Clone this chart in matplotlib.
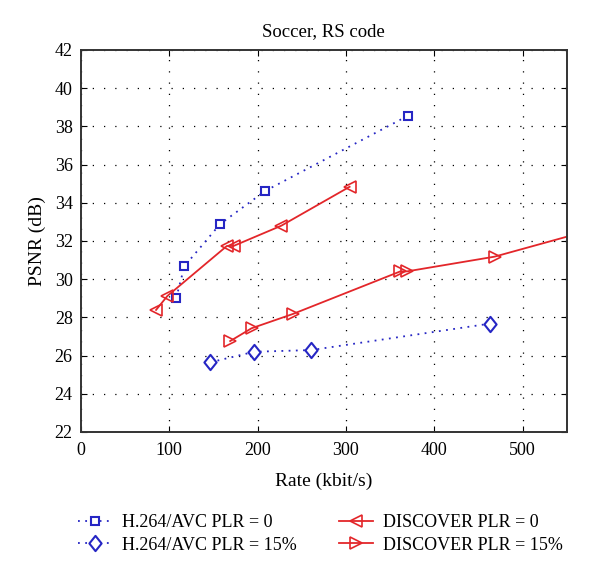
import matplotlib
matplotlib.use("Agg")
import matplotlib.pyplot as plt
from matplotlib.path import Path

# H.264/AVC, PLR = 0
avc0_rate = [107.7, 117.1, 157.6, 208.6, 370.4]
avc0_psnr = [29.0, 30.68, 32.89, 34.62, 38.56]

# H.264/AVC, PLR = 15%
avc15_rate = [146.6, 196.1, 260.8, 462.6]
avc15_psnr = [25.65, 26.2, 26.29, 27.67]

# DISCOVER, PLR = 0
disc0_rate = [85.0, 97.8, 165.2, 172.7, 226.8, 304.2]
disc0_psnr = [28.39, 29.12, 31.74, 31.74, 32.8, 34.84]

# DISCOVER, PLR = 15%
disc15_rate = [168.9, 193.1, 240.0, 361.7, 369.3, 468.3, 650.0]
disc15_psnr = [26.76, 27.43, 28.18, 30.41, 30.41, 31.18, 33.5]

labels = [
    "H.264/AVC PLR = 0",
    "H.264/AVC PLR = 15%",
    "DISCOVER PLR = 0",
    "DISCOVER PLR = 15%",
]

BLUE = "#2626c4"
RED = "#e3262a"

# diamond a bit narrower than it is tall, like the matlab one
diamond = Path([(0, 1), (0.8, 0), (0, -1), (-0.8, 0), (0, 1)], closed=True)

plt.rcParams["font.family"] = ["Liberation Serif", "DejaVu Serif"]
plt.rcParams["font.size"] = 13

fig = plt.figure(figsize=(6.0, 5.78), dpi=100)
ax = fig.add_axes([0.135, 0.2526, 0.8095, 0.6609])

h1, = ax.plot(avc0_rate, avc0_psnr, linestyle=(0, (1, 3)), color=BLUE, lw=1.3,
              marker="s", ms=6, mfc="white", mec=BLUE, mew=1.5, label=labels[0])
h3, = ax.plot(disc0_rate, disc0_psnr, linestyle="-", color=RED, lw=1.3,
              marker="<", ms=8, mfc="none", mec=RED, mew=1.2, label=labels[2])
h2, = ax.plot(avc15_rate, avc15_psnr, linestyle=(0, (1, 3)), color=BLUE, lw=1.3,
              marker=diamond, ms=11, mfc="white", mec=BLUE, mew=1.5, label=labels[1])
h4, = ax.plot(disc15_rate, disc15_psnr, linestyle="-", color=RED, lw=1.3,
              marker=">", ms=8, mfc="none", mec=RED, mew=1.2, label=labels[3])

ax.set_xlim(0, 550)
ax.set_ylim(22, 42)
ax.set_xticks(range(0, 501, 100))
ax.set_yticks(range(22, 43, 2))
ax.tick_params(direction="in", length=4, top=True, right=True, labelsize=13)
ax.tick_params(axis="x", pad=7)
ax.tick_params(axis="y", pad=6)
ax.grid(True, color="black", linestyle=(0, (1, 8)), linewidth=0.9)
for s in ax.spines.values():
    s.set_linewidth(1.4)
    s.set_color("#333333")

ax.set_xlabel("Rate (kbit/s)", fontsize=14, labelpad=10)
ax.set_ylabel("PSNR (dB)", fontsize=14, labelpad=6)
ax.set_title("Soccer, RS code", fontsize=13.5, pad=10)

fig.legend(handles=[h1, h2, h3, h4], labels=labels, ncol=2, frameon=False,
           loc="center left", bbox_to_anchor=(0.13, 0.076), numpoints=1,
           borderpad=0, borderaxespad=0,
           fontsize=13, handlelength=1.9, handletextpad=0.55,
           columnspacing=2.3, labelspacing=0.3)

fig.savefig("out.png", dpi=100)
